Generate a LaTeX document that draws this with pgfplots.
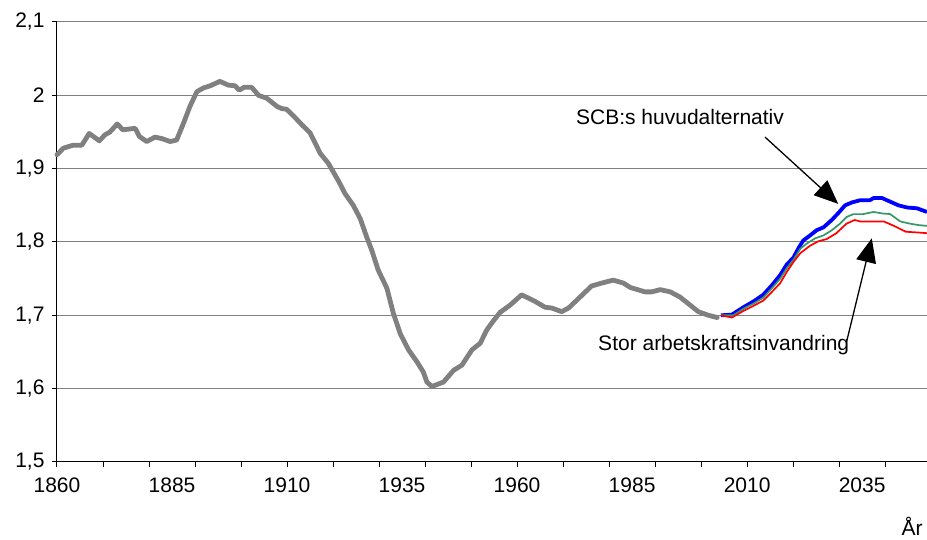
\documentclass[border=0pt]{standalone}
\usepackage{pgfplots}
\pgfplotsset{compat=1.18}
\usepackage{fontspec}
\setmainfont{Liberation Sans}
\usetikzlibrary{arrows.meta}
\definecolor{histgray}{RGB}{128,128,128}
\definecolor{scbgreen}{RGB}{51,153,102}
\begin{document}
\begin{tikzpicture}[x=1pt,y=1pt]
\begin{axis}[
  at={(57pt,78pt)}, anchor=south west,
  scale only axis, width=870pt, height=440pt,
  xmin=1860, xmax=2049.1, ymin=1.5, ymax=2.1,
  axis x line*=bottom, axis y line*=left,
  axis line style={black, line width=1pt},
  font=\fontsize{21}{25}\selectfont,
  ytick={1.5,1.6,1.7,1.8,1.9,2.0,2.1},
  yticklabels={{1,5},{1,6},{1,7},{1,8},{1,9},{2},{2,1}},
  ymajorgrids,
  major grid style={histgray, line width=1pt},
  xtick={1860,1885,1910,1935,1960,1985,2010,2035},
  xticklabels={1860,1885,1910,1935,1960,1985,2010,2035},
  minor xtick={1860,1870,1880,1890,1900,1910,1920,1930,1940,1950,1960,1970,1980,1990,2000,2010,2020,2030,2040},
  major x tick style={draw=none},
  tick align=outside, major tick length=5pt, minor tick length=5pt,
  tick style={black, line width=1pt},
  xticklabel style={yshift=-7pt},
  yticklabel style={xshift=-4pt},
  clip=false,
]
\addplot[histgray, line width=4.8pt, line join=round, line cap=round] coordinates {
(1860,1.919) (1861.4,1.928) (1863.5,1.932) (1865.4,1.932) (1867,1.948) (1869.2,1.938)
(1870.4,1.946) (1871.5,1.950) (1873.1,1.961) (1874.3,1.953) (1877,1.955) (1877.9,1.944)
(1879.5,1.937) (1881.3,1.943) (1882.8,1.941) (1884.6,1.937) (1886,1.939) (1887.5,1.962)
(1888.9,1.985) (1890.4,2.005) (1891.8,2.010) (1893.3,2.013) (1895.4,2.019) (1897.2,2.014)
(1898.7,2.013) (1899.6,2.007) (1900.7,2.011) (1902.3,2.011) (1903.8,2.000) (1905.6,1.996)
(1907.8,1.985) (1908.8,1.982) (1909.9,1.981) (1911.4,1.972) (1913.2,1.960) (1915,1.949)
(1917.2,1.921) (1919,1.907) (1921.2,1.883) (1922.6,1.866) (1924.4,1.850) (1925.9,1.832)
(1927.3,1.807) (1928.4,1.789) (1929.8,1.762) (1931.7,1.737) (1933.1,1.703) (1934.6,1.675)
(1936.4,1.653) (1938.2,1.637) (1939.6,1.623) (1940.4,1.609) (1941.5,1.603) (1944,1.609)
(1946.2,1.625) (1948,1.632) (1950.2,1.653) (1952,1.662) (1953.4,1.680) (1954.8,1.692)
(1956.3,1.704) (1958.5,1.714) (1961,1.728) (1963.9,1.719) (1966.1,1.711) (1967.5,1.710)
(1969.7,1.705) (1971.2,1.710) (1973.7,1.725) (1976.2,1.740) (1978.4,1.744) (1980.9,1.748)
(1983.1,1.744) (1984.6,1.738) (1987.8,1.732) (1989.3,1.732) (1991.1,1.735) (1993.3,1.732)
(1995.4,1.725) (1997.6,1.714) (1999.4,1.705) (2001.6,1.700) (2003.5,1.697)
};
\addplot[blue, line width=3.8pt, line join=round] coordinates {
(2004.3,1.700) (2006.7,1.701) (2009.2,1.711) (2011.4,1.719) (2013.5,1.728) (2015.4,1.741)
(2017.2,1.755) (2018.6,1.769) (2020.1,1.779) (2021.2,1.792) (2022.2,1.802) (2023.7,1.809)
(2025.1,1.816) (2026.6,1.820) (2028.4,1.830) (2029.9,1.840) (2031.3,1.850) (2032.8,1.854)
(2034.6,1.857) (2036.7,1.857) (2037.5,1.860) (2039.3,1.860) (2041.1,1.855) (2042.9,1.850)
(2044.8,1.847) (2046.9,1.846) (2049.1,1.841)
};
\addplot[scbgreen, line width=1.7pt, line join=round] coordinates {
(2004.3,1.700) (2007,1.700) (2009.2,1.709) (2011.4,1.716) (2013.5,1.724) (2015.4,1.737)
(2017.2,1.750) (2018.6,1.764) (2020.1,1.776) (2021.6,1.791) (2023,1.798) (2024.8,1.805)
(2026.6,1.809) (2028.4,1.816) (2030.2,1.825) (2031.6,1.834) (2033.1,1.838) (2035.2,1.838)
(2037.5,1.841) (2039.3,1.839) (2041.1,1.838) (2043.3,1.828) (2045.4,1.825) (2047.3,1.823)
(2049.1,1.822)
};
\addplot[red, line width=1.7pt, line join=round] coordinates {
(2004.3,1.700) (2006.7,1.697) (2009.2,1.706) (2011.4,1.713) (2013.5,1.720) (2015.4,1.732)
(2017.2,1.744) (2018.6,1.759) (2020.1,1.773) (2021.6,1.785) (2023.7,1.795) (2025.5,1.801)
(2027.3,1.804) (2029.4,1.812) (2031.6,1.825) (2033.4,1.830) (2034.6,1.828) (2039.7,1.828)
(2041.9,1.822) (2044.5,1.814) (2047,1.813) (2049.1,1.812)
};
\node[anchor=west, inner sep=0pt] at (axis cs:1972.8,1.971) {SCB:s huvudalternativ};
\draw[black, line width=1.3pt, -{Triangle[length=24pt,width=20pt]}] (axis cs:2013.9,1.943) -- (axis cs:2029.8,1.852);
\node[anchor=west, inner sep=0pt] at (axis cs:1977.6,1.660) {Stor arbetskraftsinvandring};
\draw[black, line width=1.3pt, -{Triangle[length=24pt,width=20pt]}] (axis cs:2031.7,1.666) -- (axis cs:2037.1,1.805);
\end{axis}
\node[font=\fontsize{21}{25}\selectfont, anchor=base, inner sep=0pt] at (912pt,4pt) {År};
\pgfresetboundingbox
\path[use as bounding box] (0,0) rectangle (927pt,540pt);
\end{tikzpicture}
\end{document}
